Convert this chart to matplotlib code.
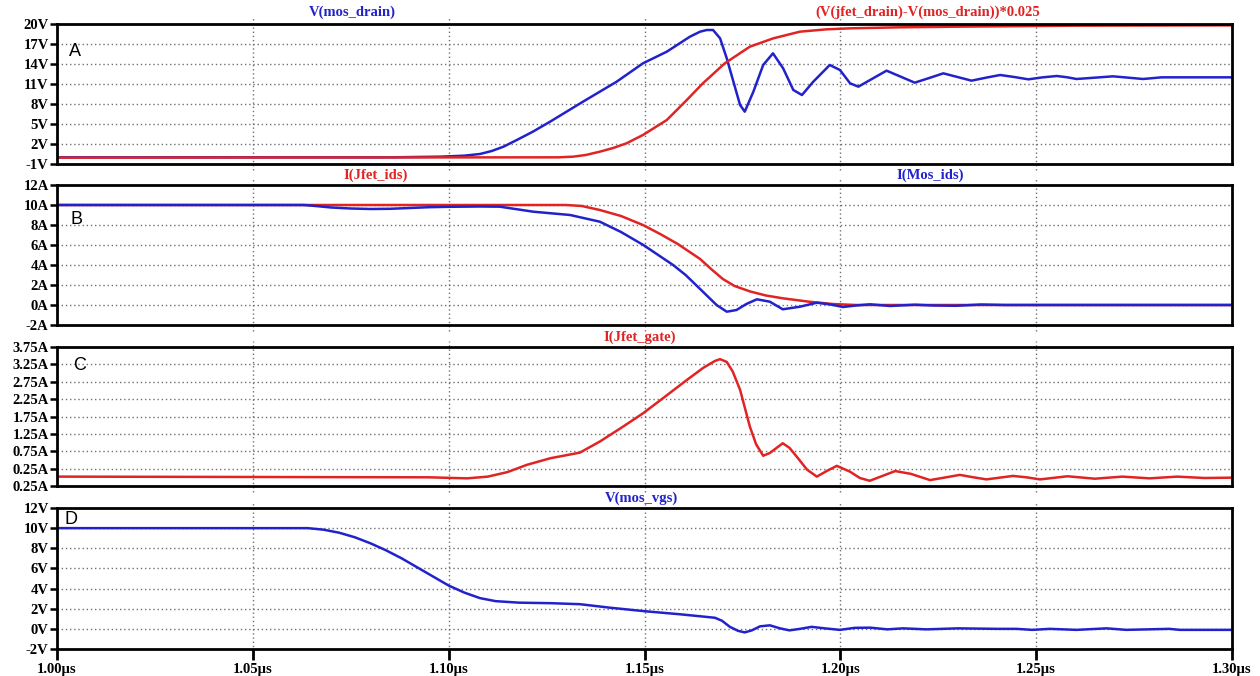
import matplotlib
matplotlib.use("Agg")
import matplotlib.pyplot as plt
import matplotlib.transforms as mtransforms

# ---------------------------------------------------------------------------
# Waveforms (time in ns)
# ---------------------------------------------------------------------------
t_mos_drain = [1000, 1085, 1098, 1104, 1108, 1111, 1114, 1117.4, 1121.5, 1125.9, 1130.1,
               1134.3, 1138.6, 1142.9, 1149.6, 1155.7, 1161.6, 1164.2, 1165.9, 1167.5,
               1169.3, 1171, 1172.7, 1174.4, 1175.6, 1177.8, 1180.3, 1182.8, 1185.4, 1188,
               1190.2, 1193.1, 1197.3, 1199.9, 1202.5, 1204.6, 1208.2, 1211.8, 1215.4,
               1219, 1222.7, 1226.3, 1229.9, 1233.5, 1237.2, 1240.8, 1244.4, 1248,
               1251.7, 1255.3, 1258, 1260.3, 1265, 1269.6, 1273.5, 1277.3, 1282, 1300]
v_mos_drain = [0.0, 0.0, 0.1, 0.25, 0.5, 0.95, 1.6, 2.6, 3.85, 5.35, 6.85,
               8.35, 9.85, 11.35, 14.1, 15.85, 18.1, 18.85, 19.1, 19.1,
               17.85, 14.85, 11.35, 7.85, 6.85, 9.85, 13.85, 15.6, 13.35, 10.1,
               9.35, 11.35, 13.85, 13.1, 11.1, 10.6, 11.8, 13.0, 12.1,
               11.2, 11.9, 12.6, 12.05, 11.5, 11.95, 12.35, 12.05, 11.7,
               12.0, 12.2, 12.0, 11.75, 11.95, 12.15, 11.95, 11.75, 12.0, 12.0]

t_jfet_vds = [1000, 1128, 1131.8, 1135, 1138.6, 1142, 1145.4, 1149.6, 1155.7, 1160.8, 1164.9,
              1170.5, 1176.9, 1182.9, 1189.7, 1196.5, 1202.5, 1215, 1230, 1260, 1300]
v_jfet_vds = [-0.05, 0.0, 0.1, 0.35, 0.85, 1.4, 2.1, 3.35, 5.6, 8.6, 11.1,
              14.1, 16.6, 17.85, 18.85, 19.2, 19.35, 19.5, 19.6, 19.75, 19.8]

t_jfet_ids = [1000, 1130, 1134, 1138.6, 1144, 1149.6, 1154, 1158.5, 1164.2, 1167, 1170,
              1173, 1177, 1181, 1185.3, 1192, 1198, 1204, 1220, 1300]
i_jfet_ids = [10.0, 10.0, 9.9, 9.5, 8.9, 8.0, 7.1, 6.1, 4.6, 3.6, 2.6,
              1.9, 1.35, 0.95, 0.67, 0.33, 0.1, 0.0, 0.0, 0.0]

t_mos_ids = [1000, 1063, 1066, 1070, 1075, 1080, 1085, 1090, 1095, 1100, 1108, 1113.1,
             1121.6, 1131, 1138.6, 1144, 1149.7, 1153.5, 1157.3, 1160.5, 1164.2, 1168.4,
             1171, 1173.5, 1176, 1178.7, 1182, 1185.3, 1189.7, 1194, 1197.5, 1200.7,
             1204, 1207.6, 1212.7, 1219, 1223.7, 1229.5, 1236, 1242, 1300]
i_mos_ids = [10.0, 10.0, 9.9, 9.75, 9.65, 9.6, 9.62, 9.7, 9.78, 9.82, 9.85, 9.83,
             9.33, 9.0, 8.33, 7.3, 6.0, 5.0, 4.0, 3.0, 1.6, 0.0,
             -0.67, -0.5, 0.1, 0.57, 0.33, -0.43, -0.17, 0.23, 0.05, -0.2,
             -0.05, 0.07, -0.1, 0.03, -0.05, -0.08, 0.05, 0.0, 0.0]

t_jfet_gate = [1000, 1095, 1104.7, 1110, 1115, 1120, 1126, 1133.5, 1138.6, 1144, 1149.6,
               1155, 1160.8, 1165, 1168, 1169.3, 1171, 1172.5, 1174.4, 1176.9, 1178.5,
               1180.3, 1182, 1185.3, 1187, 1188.9, 1191.5, 1194, 1196.5, 1199.1, 1202.5,
               1205, 1207.5, 1211, 1214, 1218, 1222.9, 1226.5, 1230.5, 1234, 1237.3,
               1240.7, 1244.1, 1247.5, 1251, 1258, 1265, 1272, 1279, 1286, 1293, 1300]
i_jfet_gate = [0.02, 0.0, -0.03, 0.02, 0.15, 0.36, 0.55, 0.71, 1.03, 1.42, 1.84,
               2.3, 2.8, 3.15, 3.35, 3.4, 3.32, 3.05, 2.52, 1.46, 0.95,
               0.62, 0.7, 0.98, 0.85, 0.59, 0.22, 0.02, 0.18, 0.33, 0.16,
               -0.02, -0.1, 0.05, 0.18, 0.1, -0.08, -0.01, 0.07, 0.0, -0.06,
               -0.01, 0.04, 0.0, -0.06, 0.03, -0.04, 0.02, -0.03, 0.02, -0.02, -0.01]

t_mos_vgs = [1000, 1064, 1068, 1072, 1076, 1080, 1084, 1088, 1092, 1096, 1100, 1104,
             1108, 1112, 1118, 1126, 1133.5, 1141.2, 1150.1, 1159, 1164.2, 1168, 1169.8,
             1171.8, 1173.9, 1175.6, 1177.4, 1179.5, 1182, 1184.6, 1187, 1189.7, 1192.7,
             1196, 1199.9, 1203.7, 1207.6, 1212, 1216, 1222, 1230, 1240, 1245, 1249,
             1253.5, 1260.3, 1268, 1273, 1284, 1286.7, 1300]
v_mos_vgs = [10.0, 10.0, 9.85, 9.55, 9.1, 8.5, 7.8, 7.0, 6.1, 5.2, 4.3, 3.6,
             3.05, 2.75, 2.6, 2.55, 2.45, 2.1, 1.75, 1.45, 1.25, 1.1, 0.8,
             0.2, -0.2, -0.35, -0.15, 0.25, 0.35, 0.05, -0.15, 0.0, 0.2,
             0.05, -0.1, 0.1, 0.12, -0.05, 0.05, -0.05, 0.05, 0.0, 0.0, -0.1,
             0.0, -0.1, 0.05, -0.1, 0.0, -0.1, -0.1]

x_ticks = [1000, 1050, 1100, 1150, 1200, 1250, 1300]
x_labels = ["1.00µs", "1.05µs", "1.10µs", "1.15µs", "1.20µs", "1.25µs", "1.30µs"]

a_ticks = [-1, 2, 5, 8, 11, 14, 17, 20]
a_labels = ["-1V", "2V", "5V", "8V", "11V", "14V", "17V", "20V"]
b_ticks = [-2, 0, 2, 4, 6, 8, 10, 12]
b_labels = ["-2A", "0A", "2A", "4A", "6A", "8A", "10A", "12A"]
c_ticks = [-0.25, 0.25, 0.75, 1.25, 1.75, 2.25, 2.75, 3.25, 3.75]
c_labels = ["0.25A", "0.25A", "0.75A", "1.25A", "1.75A", "2.25A", "2.75A", "3.25A", "3.75A"]
d_ticks = [-2, 0, 2, 4, 6, 8, 10, 12]
d_labels = ["-2V", "0V", "2V", "4V", "6V", "8V", "10V", "12V"]

BLUE = "#2222cc"
RED = "#e02424"
GRID = "#707070"
TICK_FONT = dict(family="Liberation Serif", weight="bold", size=10.5)

fig = plt.figure(figsize=(12.6, 6.76), dpi=100)
W, H = 1260.0, 676.0


def make_axes(top_px, bottom_px, yticks, ylabels):
    h_px = bottom_px - top_px
    ax = fig.add_axes([57 / W, 1 - bottom_px / H, 1175 / W, h_px / H])
    ax.set_xlim(1000, 1300)
    ax.set_ylim(yticks[0], yticks[-1])
    ax.set_yticks(yticks)
    ax.set_yticklabels(ylabels, fontdict=TICK_FONT)
    ax.set_xticks(x_ticks)
    ax.set_xticklabels([])
    ax.tick_params(direction="out", length=5, width=1.8, pad=1, colors="black")
    ax.tick_params(axis="x", length=0)
    for s in ax.spines.values():
        s.set_linewidth(2.0)
        s.set_color("black")
    # dotted grid on the inner ticks only
    for y in yticks[1:-1]:
        ax.axhline(y, color=GRID, lw=1.0, ls=(0, (1, 2)), zorder=0)
    # vertical grid runs a few pixels past the frame
    ext = 6.0 / h_px
    trans = mtransforms.blended_transform_factory(ax.transData, ax.transAxes)
    for x in x_ticks[1:-1]:
        ax.plot([x, x], [-ext, 1 + ext], transform=trans, color=GRID, lw=1.0,
                ls=(0, (1, 2)), zorder=0, clip_on=False)
    return ax


ax_a = make_axes(24, 164, a_ticks, a_labels)
ax_a.plot(t_mos_drain, v_mos_drain, color=BLUE, lw=1.8)
ax_a.plot(t_jfet_vds, v_jfet_vds, color=RED, lw=1.8)

ax_b = make_axes(185, 325, b_ticks, b_labels)
ax_b.plot(t_jfet_ids, i_jfet_ids, color=RED, lw=1.8)
ax_b.plot(t_mos_ids, i_mos_ids, color=BLUE, lw=1.8)

ax_c = make_axes(347, 486, c_ticks, c_labels)
ax_c.plot(t_jfet_gate, i_jfet_gate, color=RED, lw=1.8)

ax_d = make_axes(508, 649, d_ticks, d_labels)
ax_d.plot(t_mos_vgs, v_mos_vgs, color=BLUE, lw=1.8)
ax_d.set_xticklabels(x_labels, fontdict=TICK_FONT)
ax_d.tick_params(axis="x", length=8, width=2.0, pad=2)

# trace names above each pane
TITLE_FONT = dict(family="Liberation Serif", weight="bold", size=10.5)
fig.text(352 / W, 1 - 12 / H, "V(mos_drain)", color=BLUE, ha="center", va="center", **TITLE_FONT)
fig.text(928 / W, 1 - 12 / H, "(V(jfet_drain)-V(mos_drain))*0.025", color=RED,
         ha="center", va="center", **TITLE_FONT)
fig.text(376 / W, 1 - 175 / H, "I(Jfet_ids)", color=RED, ha="center", va="center", **TITLE_FONT)
fig.text(930 / W, 1 - 175 / H, "I(Mos_ids)", color=BLUE, ha="center", va="center", **TITLE_FONT)
fig.text(640 / W, 1 - 337 / H, "I(Jfet_gate)", color=RED, ha="center", va="center", **TITLE_FONT)
fig.text(641 / W, 1 - 498 / H, "V(mos_vgs)", color=BLUE, ha="center", va="center", **TITLE_FONT)

# pane letters
LETTER_FONT = dict(family="Liberation Sans", size=13)
fig.text(75 / W, 1 - 52 / H, "A", ha="center", va="center", **LETTER_FONT)
fig.text(76 / W, 1 - 220 / H, "B", ha="center", va="center", **LETTER_FONT)
fig.text(80 / W, 1 - 365 / H, "C", ha="center", va="center", **LETTER_FONT)
fig.text(71 / W, 1 - 520 / H, "D", ha="center", va="center", **LETTER_FONT)

fig.savefig("out.png", dpi=100)
